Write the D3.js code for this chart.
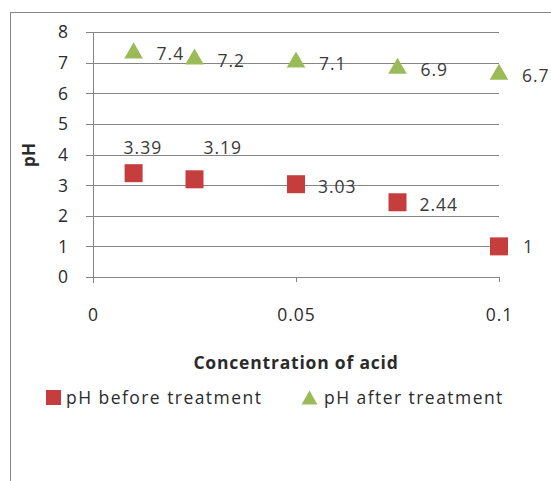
<!DOCTYPE html>
<html>
<head>
<meta charset="utf-8">
<script src="https://cdn.jsdelivr.net/npm/d3@7"></script>
<style>
  html, body { margin: 0; padding: 0; background: #fff; }
  svg { display: block; }
  text { font-family: "Open Sans", "Noto Sans", sans-serif; fill: #2b2b2b; }
</style>
</head>
<body>
<svg id="chart" width="551" height="481"></svg>
<script>
// Acid concentration and measured pH
const concentration = [0.01, 0.025, 0.05, 0.075, 0.1];
const phBefore = [3.39, 3.19, 3.03, 2.44, 1];
const phAfter = [7.4, 7.2, 7.1, 6.9, 6.7];
const seriesNames = ["pH before treatment", "pH after treatment"];
const xTicks = [0, 0.05, 0.1];
const yTicks = [0, 1, 2, 3, 4, 5, 6, 7, 8];
const xTitle = "Concentration of acid";
const yTitle = "pH";

// label nudges (dx, dy from the marker centre) for the "before" series;
// the first two labels sit above their markers
const beforeLabelNudge = [[-10, -19], [9, -25], [22, 9], [22, 9], [24, 7]];

const svg = d3.select("#chart");
const W = 551, H = 481;
const red = "#C63D3D", green = "#9BBB59";
const axisGrey = "#858585";
const fontSize = 17.5;

// chart frame
svg.append("rect")
  .attr("x", 10.5).attr("y", 12.5)
  .attr("width", W + 20).attr("height", H + 20)
  .attr("fill", "#fff").attr("stroke", axisGrey).attr("stroke-width", 1);

const plot = { left: 93, right: 499, top: 32, bottom: 277 };
const x = d3.scaleLinear().domain([0, 0.1]).range([plot.left, plot.right]);
const y = d3.scaleLinear().domain([0, 8]).range([plot.bottom, plot.top]);

// horizontal gridlines with short stubs left of the axis
const yAxis = d3.axisLeft(y).tickValues(yTicks)
  .tickSize(-(plot.right - plot.left)).tickPadding(25).tickFormat(d3.format("d"));
const gy = svg.append("g").attr("transform", `translate(${plot.left},0)`).call(yAxis);
gy.select(".domain").remove();
gy.selectAll(".tick line").attr("stroke", axisGrey).attr("x1", -7).attr("shape-rendering", "crispEdges");
gy.selectAll(".tick text")
  .attr("font-size", fontSize).attr("fill", "#2b2b2b")
  .attr("font-family", "'Open Sans', sans-serif").attr("dy", "0.34em");

// vertical axis line
svg.append("line")
  .attr("x1", plot.left).attr("x2", plot.left)
  .attr("y1", plot.top).attr("y2", plot.bottom + 6)
  .attr("stroke", axisGrey).attr("shape-rendering", "crispEdges");

// horizontal axis
const xAxis = d3.axisBottom(x).tickValues(xTicks).tickSize(5).tickPadding(27)
  .tickFormat(d => String(d));
const gx = svg.append("g").attr("transform", `translate(0,${plot.bottom})`).call(xAxis);
gx.select(".domain").attr("stroke", axisGrey)
  .attr("d", `M${plot.left},0H${plot.right}`).attr("shape-rendering", "crispEdges");
gx.selectAll(".tick line").attr("stroke", axisGrey).attr("shape-rendering", "crispEdges");
gx.selectAll(".tick text")
  .attr("font-size", fontSize).attr("fill", "#2b2b2b")
  .attr("font-family", "'Open Sans', sans-serif").attr("letter-spacing", 1);

// axis titles
svg.append("text")
  .attr("x", 296).attr("y", 369)
  .attr("text-anchor", "middle").attr("font-size", 17.5).attr("font-weight", "bold")
  .attr("letter-spacing", 0.8)
  .text(xTitle);
svg.append("text")
  .attr("transform", `translate(35,155) rotate(-90)`)
  .attr("text-anchor", "middle").attr("font-size", 17).attr("font-weight", "bold")
  .text(yTitle);

const before = concentration.map((c, i) => ({ c, v: phBefore[i], nudge: beforeLabelNudge[i] }));
const after = concentration.map((c, i) => ({ c, v: phAfter[i] }));

// square markers
const sq = 18;
svg.append("g").selectAll("rect").data(before).join("rect")
  .attr("x", d => x(d.c) - sq / 2).attr("y", d => y(d.v) - sq / 2)
  .attr("width", sq).attr("height", sq).attr("fill", red);

// triangle markers, shifted so the bounding box is centred on the value
const triSize = 150;
const triR = Math.sqrt(triSize / (Math.sqrt(3) * 3));
const tri = d3.symbol().type(d3.symbolTriangle).size(triSize);
svg.append("g").selectAll("path").data(after).join("path")
  .attr("transform", d => `translate(${x(d.c)},${y(d.v) + triR / 2})`)
  .attr("d", tri).attr("fill", green);

// data labels
const labelColor = "#3a3a3a";
svg.append("g").selectAll("text").data(before).join("text")
  .attr("x", d => x(d.c) + d.nudge[0]).attr("y", d => y(d.v) + d.nudge[1])
  .attr("font-size", fontSize).attr("letter-spacing", 1).style("fill", labelColor)
  .text(d => String(d.v));
svg.append("g").selectAll("text").data(after).join("text")
  .attr("x", d => x(d.c) + 23).attr("y", d => y(d.v) + 10)
  .attr("font-size", fontSize).attr("letter-spacing", 1).style("fill", labelColor)
  .text(d => String(d.v));

// legend
const lg = svg.append("g").attr("transform", "translate(0,397.5)");
lg.append("rect").attr("x", 46).attr("y", -7.5).attr("width", 15).attr("height", 15).attr("fill", red);
lg.append("text").attr("x", 66).attr("y", 6.5).attr("font-size", fontSize).attr("letter-spacing", 1.45)
  .text(seriesNames[0]);
lg.append("path").attr("transform", `translate(309.5,${Math.sqrt(110 / (Math.sqrt(3) * 3)) / 2})`)
  .attr("d", d3.symbol().type(d3.symbolTriangle).size(110)).attr("fill", green);
lg.append("text").attr("x", 324).attr("y", 6.5).attr("font-size", fontSize).attr("letter-spacing", 1.45)
  .text(seriesNames[1]);
</script>
</body>
</html>
